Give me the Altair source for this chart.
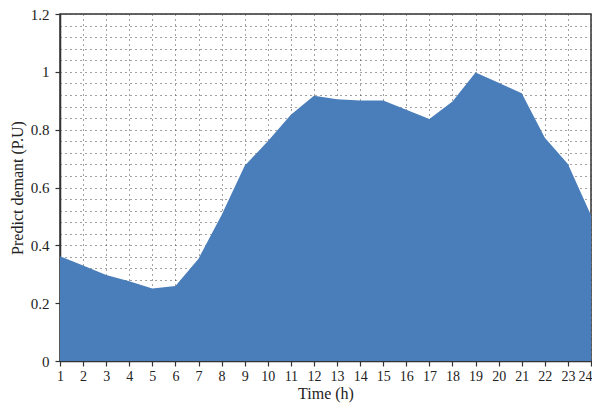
import altair as alt
import pandas as pd

hours = list(range(1, 25))
demand = [0.362, 0.330, 0.297, 0.276, 0.251, 0.259, 0.354, 0.505, 0.675, 0.760,
          0.852, 0.917, 0.905, 0.901, 0.901, 0.869, 0.837, 0.897, 0.998, 0.962,
          0.926, 0.772, 0.681, 0.504]
y_labels = [0, 0.2, 0.4, 0.6, 0.8, 1, 1.2]
y_grid = [round(i * 0.04, 2) for i in range(31)]

df = pd.DataFrame({"hour": hours, "demand": demand})

FONT = "Liberation Serif"
x_scale = alt.Scale(domain=[1, 24], nice=False, zero=False)
y_scale = alt.Scale(domain=[0, 1.2], nice=False)

x_enc = alt.X("hour:Q", scale=x_scale,
              axis=alt.Axis(values=hours, title="Time (h)", grid=True,
                            gridDash=[1, 4], gridColor="#444", gridWidth=1,
                            format="d", labelFontSize=14, labelFlush=False,
                            labelOverlap=False,
                            labelOffset=alt.condition("datum.value == 24",
                                                      alt.value(-6),
                                                      alt.value(0))))

grid_layer = alt.Chart(df).mark_area(opacity=0).encode(
    x=x_enc,
    y=alt.Y("demand:Q", scale=y_scale,
            axis=alt.Axis(values=y_grid, grid=True, labels=False, ticks=False,
                          domain=False, title=None, orient="right",
                          gridDash=[1, 4], gridColor="#444", gridWidth=1)),
)

area = alt.Chart(df).mark_area(color="#4a7ebb", opacity=1).encode(
    x=x_enc,
    y=alt.Y("demand:Q", scale=y_scale,
            axis=alt.Axis(values=y_labels, title="Predict demant (P.U)", grid=False,
                          format="~g", orient="left", labelFlush=False,
                          labelOverlap=False)),
)

chart = alt.layer(grid_layer, area).resolve_axis(y="independent").properties(
    width=531, height=347,
    autosize=alt.AutoSizeParams(type="none"),
    padding={"left": 52, "top": 6, "right": 1, "bottom": 44},
).configure_view(
    stroke="#333", strokeWidth=1.5
).configure_axis(
    labelFont=FONT, titleFont=FONT, labelFontSize=15, titleFontSize=16,
    labelColor="#222", titleColor="#222", titleFontWeight="normal",
    domainColor="#333", domainWidth=1.5, tickColor="#333", tickSize=5,
    tickWidth=1.2,
).configure_axisX(
    titlePadding=2, labelPadding=3,
).configure_axisY(
    titlePadding=5, labelPadding=6,
)

chart.save("out.html", embed_options={"renderer": "svg", "actions": False})
